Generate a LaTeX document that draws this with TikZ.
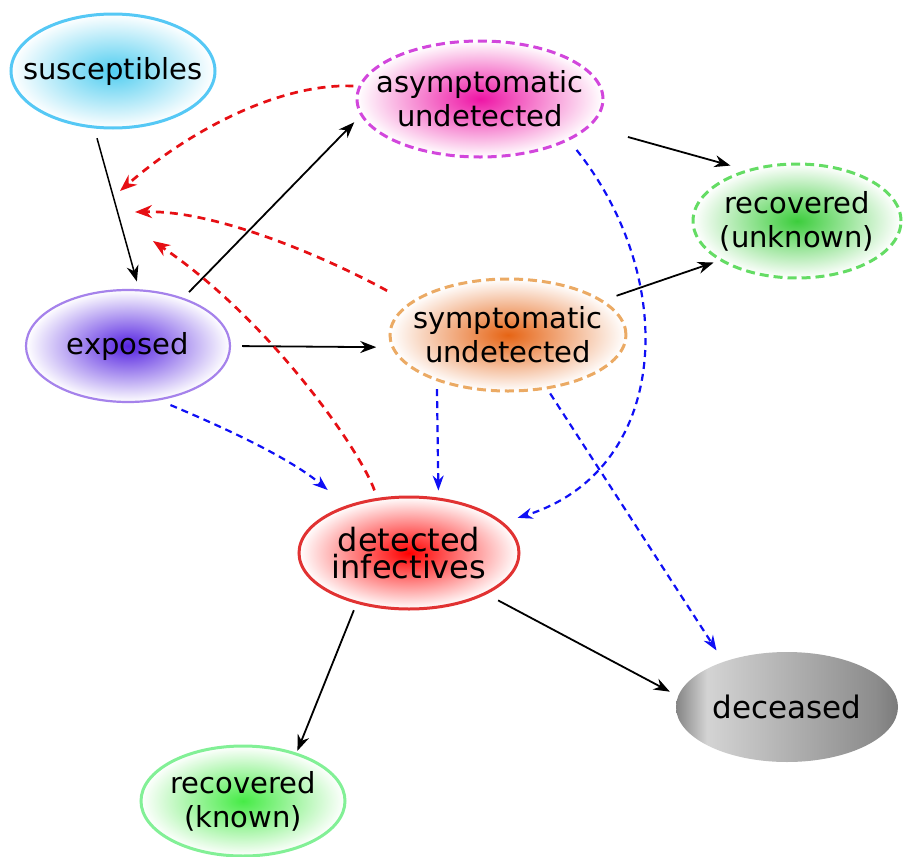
\documentclass[tikz,border=0pt]{standalone}
\usepackage{fontspec}
\setmainfont{DejaVu Sans}
\usetikzlibrary{shapes.geometric}
\usetikzlibrary{arrows.meta}

\definecolor{suscol}{RGB}{80,205,240}
\definecolor{susline}{RGB}{85,200,245}
\definecolor{asycol}{RGB}{238,20,165}
\definecolor{asyline}{RGB}{210,70,220}
\definecolor{symcol}{RGB}{230,100,20}
\definecolor{symline}{RGB}{235,170,100}
\definecolor{expcol}{RGB}{85,35,225}
\definecolor{expline}{RGB}{165,130,235}
\definecolor{detcol}{RGB}{255,0,0}
\definecolor{detline}{RGB}{225,50,50}
\definecolor{recucol}{RGB}{60,205,60}
\definecolor{reculine}{RGB}{100,220,100}
\definecolor{reckcol}{RGB}{70,235,70}
\definecolor{reckline}{RGB}{130,240,150}
\definecolor{infred}{RGB}{230,15,20}
\definecolor{detblue}{RGB}{15,15,245}

\pgfdeclarehorizontalshading{deadshade}{100bp}{color(0bp)=(black!48); color(25bp)=(black!48); color(32bp)=(black!17); color(70bp)=(black!45); color(75bp)=(black!52); color(100bp)=(black!52)}

\begin{document}
\begin{tikzpicture}[x=1pt, y=-1pt,
  state/.style={ellipse, inner sep=0pt, line width=3pt, outer color=white},
  statetext/.style={align=center, inner sep=0pt, font=\fontsize{29}{34}\selectfont},
  hidden/.style={dash pattern=on 9pt off 5pt},
  flow/.style={-{Stealth[length=16pt,width=12pt]}, line width=1.8pt},
  infect/.style={-{Stealth[length=17pt,width=13pt]}, line width=2.7pt, infred, dash pattern=on 8pt off 6pt},
  detect/.style={-{Stealth[length=15pt,width=11pt]}, line width=2.2pt, detblue, dash pattern=on 7pt off 5pt}]

\useasboundingbox (0,0) rectangle (903,857);

\node (S) at (113,71) [state, draw=susline, inner color=suscol, minimum width=204pt, minimum height=114pt, label={[statetext]center:susceptibles}] {};
\node (A) at (480,99) [state, hidden, draw=asyline, inner color=asycol, minimum width=246pt, minimum height=116pt, label={[statetext]center:asymptomatic\\undetected}] {};
\node (RU) at (797,221) [state, hidden, draw=reculine, inner color=recucol, minimum width=208pt, minimum height=114pt, label={[statetext]center:recovered\\(unknown)}] {};
\node (E) at (128,346) [state, line width=2.2pt, draw=expline, inner color=expcol, minimum width=204pt, minimum height=112pt, label={[statetext]center:exposed}] {};
\node (I) at (508,335) [state, hidden, draw=symline, inner color=symcol, minimum width=236pt, minimum height=112pt, label={[statetext]center:symptomatic\\undetected}] {};
\node (D) at (409,553) [state, draw=detline, inner color=detcol, minimum width=220pt, minimum height=112pt, label={[statetext, font=\fontsize{32}{27}\selectfont]center:detected\\infectives}] {};
\node (X) at (787,707) [state, shading=deadshade, minimum width=222pt, minimum height=110pt, label={[statetext, font=\fontsize{31}{34}\selectfont]center:deceased}] {};
\node (RK) at (243,801) [state, draw=reckline, inner color=reckcol, minimum width=204pt, minimum height=110pt, label={[statetext]center:recovered\\(known)}] {};

\coordinate (inf1) at (120,191);
\coordinate (inf2) at (135,212);
\coordinate (inf3) at (153,241);

\path[flow] (S.-108) edge[line width=1.5pt, shorten <=10pt, shorten >=8pt] (E.79);
\path[flow] (E.41) edge[shorten <=8pt, shorten >=9pt] (A.188);
\path[flow] (E.0) edge[shorten <=11pt, shorten >=15pt] (I.186);
\path[flow] (A.-14) edge[shorten <=39pt, shorten >=16pt] (RU.135);
\path[flow] (I.20) edge[shorten <=14pt, shorten >=6pt] (RU.207);
\path[flow] (D.224) edge[shorten <=7pt, shorten >=2pt] (RK.42);
\path[flow] (D.-28) edge[shorten <=13pt, shorten >=8pt] (X.174);

\draw[infect, shorten <=5pt] (A.174) .. controls (280,83) and (190,130) .. (inf1);
\draw[infect, shorten <=25pt] (I.162) .. controls (335,262) and (220,210) .. (inf2);
\draw[infect, shorten <=8pt] (D.120) .. controls (360,450) and (270,320) .. (inf3);

\draw[detect, shorten <=12pt, shorten >=24pt] (E.-60) .. controls (225,428) and (290,458) .. (D.143);
\path[detect] (I.213) edge[shorten <=8pt, shorten >=7pt] (D.62);
\draw[detect, shorten <=12pt, shorten >=15pt] (A.-25) .. controls (680,280) and (670,470) .. (D.18);
\path[detect] (I.-54) edge[shorten <=5pt, shorten >=12pt] (X.144);
\end{tikzpicture}
\end{document}
